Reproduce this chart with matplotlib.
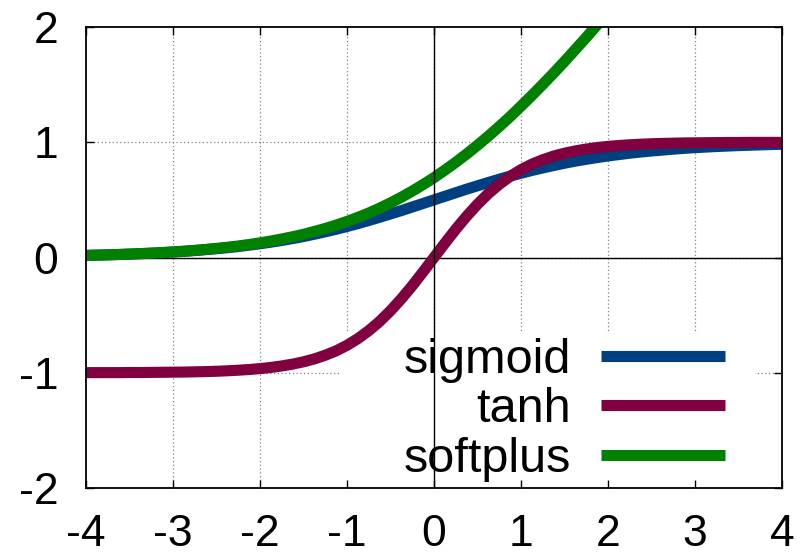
import matplotlib
matplotlib.use("Agg")
import matplotlib.pyplot as plt
from matplotlib.patches import Rectangle

# sample points (step 0.125)
x = [-4.0, -3.875, -3.75, -3.625, -3.5, -3.375, -3.25, -3.125, -3.0, -2.875, -2.75,
     -2.625, -2.5, -2.375, -2.25, -2.125, -2.0, -1.875, -1.75, -1.625, -1.5, -1.375,
     -1.25, -1.125, -1.0, -0.875, -0.75, -0.625, -0.5, -0.375, -0.25, -0.125, 0.0,
     0.125, 0.25, 0.375, 0.5, 0.625, 0.75, 0.875, 1.0, 1.125, 1.25, 1.375, 1.5,
     1.625, 1.75, 1.875, 2.0, 2.125, 2.25, 2.375, 2.5, 2.625, 2.75, 2.875, 3.0,
     3.125, 3.25, 3.375, 3.5, 3.625, 3.75, 3.875, 4.0]
sigmoid = [0.018, 0.020, 0.023, 0.026, 0.029, 0.033, 0.037, 0.042, 0.047, 0.053,
           0.060, 0.068, 0.076, 0.085, 0.095, 0.107, 0.119, 0.133, 0.148, 0.164,
           0.182, 0.202, 0.223, 0.245, 0.269, 0.294, 0.321, 0.349, 0.378, 0.407,
           0.438, 0.469, 0.500, 0.531, 0.562, 0.593, 0.622, 0.651, 0.679, 0.706,
           0.731, 0.755, 0.777, 0.798, 0.818, 0.836, 0.852, 0.867, 0.881, 0.893,
           0.905, 0.915, 0.924, 0.932, 0.940, 0.947, 0.953, 0.958, 0.963, 0.967,
           0.971, 0.974, 0.977, 0.980, 0.982]
tanh = [-0.999, -0.999, -0.999, -0.999, -0.998, -0.998, -0.997, -0.996, -0.995,
        -0.994, -0.992, -0.990, -0.987, -0.983, -0.978, -0.972, -0.964, -0.954,
        -0.941, -0.925, -0.905, -0.880, -0.848, -0.810, -0.762, -0.704, -0.635,
        -0.555, -0.462, -0.358, -0.245, -0.124, 0.000, 0.124, 0.245, 0.358,
        0.462, 0.555, 0.635, 0.704, 0.762, 0.810, 0.848, 0.880, 0.905, 0.925,
        0.941, 0.954, 0.964, 0.972, 0.978, 0.983, 0.987, 0.990, 0.992, 0.994,
        0.995, 0.996, 0.997, 0.998, 0.998, 0.999, 0.999, 0.999, 0.999]
softplus_x = [-4.0, -3.875, -3.75, -3.625, -3.5, -3.375, -3.25, -3.125, -3.0, -2.875,
              -2.75, -2.625, -2.5, -2.375, -2.25, -2.125, -2.0, -1.875, -1.75,
              -1.625, -1.5, -1.375, -1.25, -1.125, -1.0, -0.875, -0.75, -0.625,
              -0.5, -0.375, -0.25, -0.125, 0.0, 0.125, 0.25, 0.375, 0.5, 0.625,
              0.75, 0.875, 1.0, 1.125, 1.25, 1.375, 1.5, 1.625, 1.75, 1.875, 2.0]
softplus = [0.018, 0.021, 0.023, 0.026, 0.030, 0.034, 0.038, 0.043, 0.049, 0.055,
            0.062, 0.070, 0.079, 0.089, 0.100, 0.113, 0.127, 0.143, 0.161, 0.180,
            0.201, 0.226, 0.252, 0.281, 0.313, 0.348, 0.386, 0.428, 0.474, 0.523,
            0.576, 0.633, 0.693, 0.758, 0.826, 0.898, 0.974, 1.053, 1.136, 1.222,
            1.313, 1.406, 1.502, 1.600, 1.701, 1.805, 1.910, 2.018, 2.127]

labels = ["sigmoid", "tanh", "softplus"]
colors = ["#004080", "#800040", "#008000"]
xticks = [-4, -3, -2, -1, 0, 1, 2, 3, 4]
yticks = [-2, -1, 0, 1, 2]

plt.rcParams['font.family'] = ['Liberation Sans', 'DejaVu Sans']
plt.rcParams['axes.unicode_minus'] = False

fig = plt.figure(figsize=(8.02, 5.56), dpi=100)
ax = fig.add_axes([86/802, 68/556, 696/802, 461/556])
ax.set_xlim(-4, 4)
ax.set_ylim(-2, 2)
ax.set_xticks(xticks)
ax.set_yticks(yticks)
ax.set_xticklabels([str(t) for t in xticks])
ax.set_yticklabels([str(t) for t in yticks])

ax.tick_params(direction='in', length=6, width=1.0, top=True, right=True,
               labelsize=32, color='black')
ax.tick_params(axis='y', pad=20)
ax.tick_params(axis='x', pad=19)
for s in ax.spines.values():
    s.set_linewidth(1.3)
    s.set_zorder(10)

# grid (dotted)
for t in xticks[1:-1]:
    ax.axvline(t, color='#808080', linestyle=(0, (1, 2)), linewidth=0.9, zorder=0.8)
for t in yticks[1:-1]:
    ax.axhline(t, color='#808080', linestyle=(0, (1, 2)), linewidth=0.9, zorder=0.8)

# key box covers grid
ax.add_patch(Rectangle(((340-86)/696, 0), (755-340)/696, (488-333)/461,
                       transform=ax.transAxes, facecolor='white', edgecolor='none',
                       zorder=1))

# zero axes
ax.axhline(0, color='black', linewidth=1.0, zorder=2)
ax.axvline(0, color='black', linewidth=1.0, zorder=6)

kw = dict(linewidth=8, solid_capstyle='butt', solid_joinstyle='round')
ax.plot(x, sigmoid, color=colors[0], label=labels[0], zorder=3, **kw)
ax.plot(x, tanh, color=colors[1], label=labels[1], zorder=4, **kw)
ax.plot(softplus_x, softplus, color=colors[2], label=labels[2], zorder=5, **kw)

leg = ax.legend(loc='upper right', bbox_to_anchor=((725-86)/696, (488-338)/461),
                frameon=False, fontsize=35, markerfirst=False, handlelength=2.55,
                handletextpad=0.62, labelspacing=0.09, borderpad=0, borderaxespad=0)
leg.set_zorder(5)
for line in leg.get_lines():
    line.set_solid_capstyle('butt')

fig.savefig("out.png", dpi=100)
